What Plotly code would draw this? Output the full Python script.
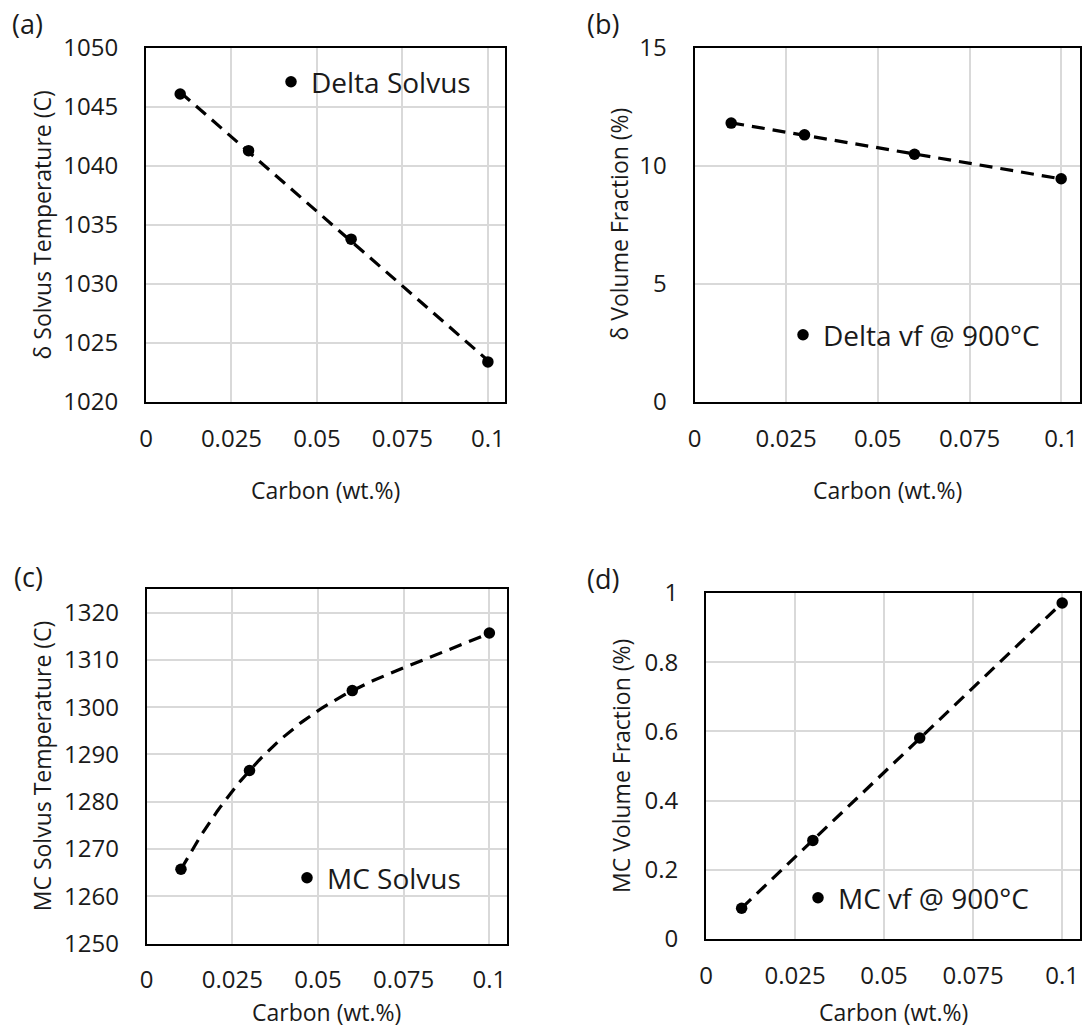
import numpy as np
import plotly.graph_objects as go

# ---------------- data ----------------
carbon = [0.01, 0.03, 0.06, 0.1]
delta_solvus = [1046.1, 1041.3, 1033.8, 1023.4]
delta_vf = [11.80, 11.30, 10.48, 9.44]
mc_solvus = [1265.7, 1286.6, 1303.5, 1315.7]
mc_vf = [0.089, 0.285, 0.581, 0.971]

x_ticks = [0, 0.025, 0.05, 0.075, 0.1]
x_ticklabels = ["0", "0.025", "0.05", "0.075", "0.1"]

names = ["Delta Solvus", "Delta vf @ 900°C", "MC Solvus", "MC vf @ 900°C"]
y_titles = ["δ Solvus Temperature (C)", "δ Volume Fraction (%)",
            "MC Solvus Temperature (C)", "MC Volume Fraction (%)"]
x_title = "Carbon (wt.%)"
panel_labels = ["(a)", "(b)", "(c)", "(d)"]
y_ranges = [[1020, 1050], [0, 15], [1250, 1325], [0, 1]]
y_dticks = [5, 5, 10, 0.2]
fit_degree = [1, 1, 3, 1]   # polynomial trendline order per panel
series = [delta_solvus, delta_vf, mc_solvus, mc_vf]

# ---------------- layout geometry (pixels) ----------------
W, H = 1082, 1036
boxes = [  # left, right, top, bottom
    (146, 505, 48, 402),
    (694.5, 1079.5, 47.5, 401.7),
    (146.7, 506.5, 589, 943.5),
    (706, 1080, 593, 939),
]
ytitle_x = [41.5, 619, 42, 621]
xtitle_y = [490, 490, 1012, 1012]
label_pos = [(27, 24), (603, 24), (28, 576), (603, 578)]
legend_marker = [(292, 82), (804, 335), (308, 878), (819, 898)]

FONT = "Open Sans"
TXT = "#1a1a1a"

def px(x):
    return x / W

def py(y):
    return 1 - y / H

fig = go.Figure()
layout = dict(
    width=W, height=H,
    margin=dict(l=0, r=0, t=0, b=0, pad=0, autoexpand=False),
    paper_bgcolor="white", plot_bgcolor="white",
    font=dict(family=FONT, color=TXT, size=23),
    showlegend=True,
)
annotations = []

xarr = np.array(carbon)
for i in range(4):
    n = i + 1
    xa = "x" if n == 1 else f"x{n}"
    ya = "y" if n == 1 else f"y{n}"
    lg = "legend" if n == 1 else f"legend{n}"
    yv = np.array(series[i])

    # trendline (least-squares polynomial fit of the data)
    xs = np.linspace(carbon[0], carbon[-1], 120)
    coef = np.polyfit(xarr, yv, fit_degree[i])
    ys = np.polyval(coef, xs)
    fig.add_trace(go.Scatter(x=xs, y=ys, mode="lines", xaxis=xa, yaxis=ya,
                             line=dict(color="black", width=3.2, dash="13px,8px"),
                             showlegend=False, hoverinfo="skip"))
    fig.add_trace(go.Scatter(x=carbon, y=series[i], mode="markers", name=names[i],
                             xaxis=xa, yaxis=ya, legend=lg,
                             marker=dict(color="black", size=11.5)))

    l, r, t, btm = boxes[i]
    axk = "xaxis" if n == 1 else f"xaxis{n}"
    ayk = "yaxis" if n == 1 else f"yaxis{n}"
    layout[axk] = dict(
        domain=[px(l), px(r)], anchor=ya, range=[0, 0.105],
        tickvals=x_ticks, ticktext=x_ticklabels,
        showgrid=True, gridcolor="#d9d9d9", gridwidth=2,
        showline=True, mirror=True, linecolor="black", linewidth=2,
        zeroline=False, ticks="", ticklabelstandoff=14, automargin=False,
        tickfont=dict(size=24, family=FONT, color=TXT),
    )
    layout[ayk] = dict(
        domain=[py(btm), py(t)], anchor=xa, range=y_ranges[i],
        dtick=y_dticks[i], tick0=y_ranges[i][0],
        showgrid=True, gridcolor="#d9d9d9", gridwidth=2,
        showline=True, mirror=True, linecolor="black", linewidth=2,
        zeroline=False, ticks="", ticklabelstandoff=21, automargin=False,
        tickfont=dict(size=24, family=FONT, color=TXT),
    )
    mx, my = legend_marker[i]
    layout[lg] = dict(
        x=px(mx - 21), y=py(my), xanchor="left", yanchor="middle",
        bgcolor="rgba(0,0,0,0)", borderwidth=0,
        font=dict(size=28, family=FONT, color=TXT),
        itemclick=False, itemdoubleclick=False,
    )
    # axis titles
    annotations.append(dict(text=y_titles[i], x=px(ytitle_x[i]), y=py((t + btm) / 2),
                            xref="paper", yref="paper", textangle=-90,
                            showarrow=False, xanchor="center", yanchor="middle",
                            font=dict(size=23, family=FONT, color=TXT)))
    annotations.append(dict(text=x_title, x=px((l + r) / 2), y=py(xtitle_y[i]),
                            xref="paper", yref="paper", showarrow=False,
                            xanchor="center", yanchor="middle",
                            font=dict(size=23, family=FONT, color=TXT)))
    lx, ly = label_pos[i]
    annotations.append(dict(text=panel_labels[i], x=px(lx), y=py(ly),
                            xref="paper", yref="paper", showarrow=False,
                            xanchor="center", yanchor="middle",
                            font=dict(size=27, family=FONT, color=TXT)))

layout["annotations"] = annotations
fig.update_layout(**layout)
fig.write_html("out.html")
